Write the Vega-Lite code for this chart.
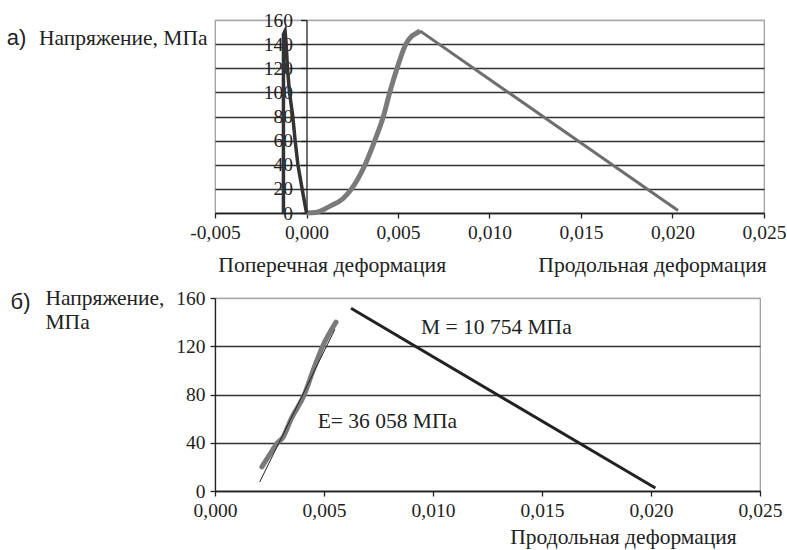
{
  "$schema": "https://vega.github.io/schema/vega-lite/v6.json",
  "background": "white",
  "padding": {"left": 6, "top": 9, "right": 5, "bottom": 2},
  "spacing": 9,
  "datasets": {
    "topTrans": [
      {"i": 0, "x": 0, "y": 0},
      {"i": 1, "x": -0.00024, "y": 20},
      {"i": 2, "x": -0.00047, "y": 40},
      {"i": 3, "x": -0.00062, "y": 60},
      {"i": 4, "x": -0.00075, "y": 80},
      {"i": 5, "x": -0.00093, "y": 100},
      {"i": 6, "x": -0.00104, "y": 120},
      {"i": 7, "x": -0.00111, "y": 140},
      {"i": 8, "x": -0.00117, "y": 151},
      {"i": 9, "x": -0.00126, "y": 148},
      {"i": 10, "x": -0.00126, "y": 0}
    ],
    "topRise": [
      {"i": 0, "x": 0, "y": 0},
      {"i": 1, "x": 0.0005, "y": 0.5},
      {"i": 2, "x": 0.00127, "y": 5.5},
      {"i": 3, "x": 0.002, "y": 12},
      {"i": 4, "x": 0.00246, "y": 20},
      {"i": 5, "x": 0.0032, "y": 40},
      {"i": 6, "x": 0.00373, "y": 60},
      {"i": 7, "x": 0.0042, "y": 80},
      {"i": 8, "x": 0.00455, "y": 100},
      {"i": 9, "x": 0.00495, "y": 120},
      {"i": 10, "x": 0.00543, "y": 140},
      {"i": 11, "x": 0.00574, "y": 146.5},
      {"i": 12, "x": 0.0059, "y": 148},
      {"i": 13, "x": 0.0062, "y": 151}
    ],
    "topFall": [
      {"i": 0, "x": 0.0062, "y": 151},
      {"i": 1, "x": 0.0203, "y": 2}
    ],
    "topText": [
      {"x": -0.01585, "y": 145, "t": "а)"}
    ],
    "botRise": [
      {"i": 0, "x": 0.00215, "y": 20},
      {"i": 1, "x": 0.0025, "y": 30},
      {"i": 2, "x": 0.00287, "y": 40},
      {"i": 3, "x": 0.0031, "y": 44},
      {"i": 4, "x": 0.0035, "y": 60},
      {"i": 5, "x": 0.0041, "y": 80},
      {"i": 6, "x": 0.0045, "y": 100},
      {"i": 7, "x": 0.00494, "y": 120},
      {"i": 8, "x": 0.00555, "y": 140}
    ],
    "botTrend": [
      {"i": 0, "x": 0.00205, "y": 7.5},
      {"i": 1, "x": 0.0055, "y": 134}
    ],
    "botFall": [
      {"i": 0, "x": 0.00624, "y": 151.5},
      {"i": 1, "x": 0.0202, "y": 2.5}
    ],
    "botText": [
      {"x": 0.00945, "y": 135.4, "t": "М = 10 754 МПа"},
      {"x": 0.00471, "y": 57.2, "t": "E= 36 058 МПа"}
    ],
    "botLetter": [
      {"x": -0.00892, "y": 156.9, "t": "б)"}
    ]
  },
  "vconcat": [
    {
      "width": 549,
      "height": 193,
      "encoding": {
        "x": {
          "field": "x", "type": "quantitative",
          "scale": {"domain": [-0.005, 0.025], "nice": false, "zero": false},
          "axis": {
            "values": [-0.005, 0, 0.005, 0.01, 0.015, 0.02, 0.025],
            "labelExpr": "replace(replace(format(datum.value, '.3f'), '.', ','), '−', '-')",
            "labelFlush": false,
            "grid": false,
            "tickSize": 5,
            "labelPadding": 5,
            "title": "Поперечная деформация\u00a0\u00a0\u00a0\u00a0\u00a0\u00a0\u00a0\u00a0\u00a0\u00a0\u00a0\u00a0\u00a0\u00a0\u00a0\u00a0\u00a0Продольная деформация",
            "titleFontSize": 21.7,
            "titleX": 277,
            "titleY": 51,
            "titleAlign": "center",
            "titleBaseline": "middle"
          }
        },
        "y": {
          "field": "y", "type": "quantitative",
          "scale": {"domain": [0, 160], "nice": false},
          "axis": {
            "offset": -91.5,
            "values": [0, 20, 40, 60, 80, 100, 120, 140, 160],
            "labelFlush": false,
            "grid": true,
            "gridColor": {"condition": {"test": "datum.value === 160", "value": "#aaaaaa"}, "value": "#333333"},
            "tickSize": 6,
            "labelPadding": 8,
            "title": "Напряжение, МПа",
            "titleFontSize": 21.5,
            "titleAngle": 0,
            "titleAlign": "left",
            "titleBaseline": "middle",
            "titleX": -268,
            "titleY": 18
          }
        },
        "order": {"field": "i", "type": "quantitative"}
      },
      "layer": [
        {"data": {"name": "topRise"}, "mark": {"type": "line", "color": "#7a7a7a", "strokeWidth": 5, "interpolate": "monotone"}},
        {"data": {"name": "topFall"}, "mark": {"type": "line", "color": "#6e6e6e", "strokeWidth": 3}},
        {"data": {"name": "topTrans"}, "mark": {"type": "line", "color": "#333333", "strokeWidth": 3.5}},
        {"data": {"name": "topText"}, "mark": {"type": "text", "font": "Liberation Sans, Arial, sans-serif", "fontSize": 22, "color": "#222222", "align": "center", "baseline": "middle"}, "encoding": {"text": {"field": "t"}}}
      ]
    },
    {
      "width": 545,
      "height": 193,
      "encoding": {
        "x": {
          "field": "x", "type": "quantitative",
          "scale": {"domain": [0, 0.025], "nice": false, "zero": false},
          "axis": {
            "values": [0, 0.005, 0.01, 0.015, 0.02, 0.025],
            "labelExpr": "replace(replace(format(datum.value, '.3f'), '.', ','), '−', '-')",
            "labelFlush": false,
            "grid": false,
            "tickSize": 5,
            "labelPadding": 5,
            "title": "Продольная деформация",
            "titleX": 408,
            "titleY": 46,
            "titleAlign": "center",
            "titleBaseline": "middle"
          }
        },
        "y": {
          "field": "y", "type": "quantitative",
          "scale": {"domain": [0, 160], "nice": false},
          "axis": {
            "values": [0, 40, 80, 120, 160],
            "labelFlush": false,
            "grid": true,
            "gridColor": {"condition": {"test": "datum.value === 160", "value": "#aaaaaa"}, "value": "#333333"},
            "tickSize": 5,
            "labelPadding": 5,
            "title": ["Напряжение,", "МПа"],
            "titleAngle": 0,
            "titleAlign": "left",
            "titleBaseline": "middle",
            "titleLineHeight": 24,
            "titleX": -170,
            "titleY": 0
          }
        },
        "order": {"field": "i", "type": "quantitative"}
      },
      "layer": [
        {"data": {"name": "botRise"}, "mark": {"type": "line", "color": "#7a7a7a", "strokeWidth": 5, "strokeCap": "round", "interpolate": "monotone"}},
        {"data": {"name": "botTrend"}, "mark": {"type": "line", "color": "#222222", "strokeWidth": 1}},
        {"data": {"name": "botFall"}, "mark": {"type": "line", "color": "#222222", "strokeWidth": 3}},
        {"data": {"name": "botText"}, "mark": {"type": "text", "font": "Times New Roman, Liberation Serif, serif", "fontSize": 21.5, "color": "#222222", "align": "left", "baseline": "middle"}, "encoding": {"text": {"field": "t"}}},
        {"data": {"name": "botLetter"}, "mark": {"type": "text", "font": "Liberation Sans, Arial, sans-serif", "fontSize": 22, "color": "#222222", "align": "center", "baseline": "middle"}, "encoding": {"text": {"field": "t"}}}
      ]
    }
  ],
  "config": {
    "view": {"stroke": "#999999", "strokeWidth": 1.2},
    "axis": {
      "domainColor": "#222222",
      "domainWidth": 1.3,
      "tickColor": "#222222",
      "tickWidth": 1.3,
      "gridWidth": 1.3,
      "labelFont": "Times New Roman, Liberation Serif, serif",
      "labelFontSize": 19.5,
      "labelColor": "#222222",
      "titleFont": "Times New Roman, Liberation Serif, serif",
      "titleFontSize": 21.5,
      "titleFontWeight": "normal",
      "titleColor": "#222222"
    }
  }
}
